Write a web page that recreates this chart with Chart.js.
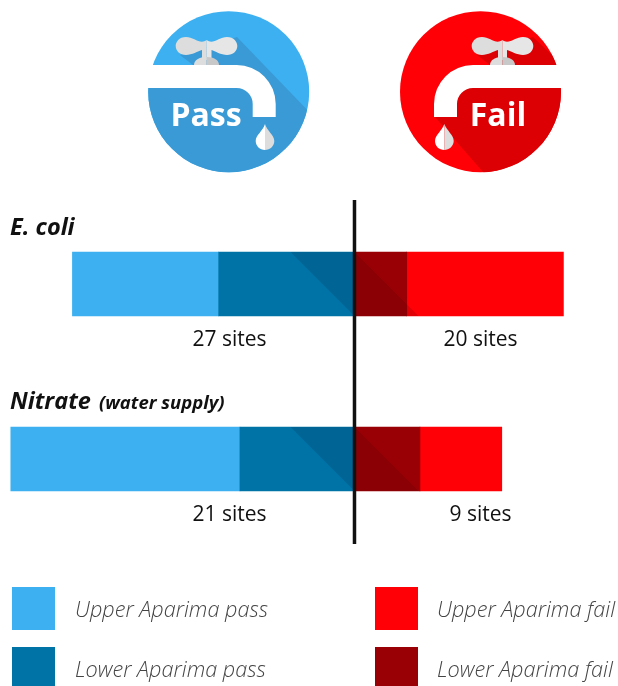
<!DOCTYPE html>
<html>
<head>
<meta charset="utf-8">
<title>Water quality sites</title>
<script src="https://cdn.jsdelivr.net/npm/chart.js@4"></script>
<style>
  html, body { margin: 0; padding: 0; background: #fff; overflow: hidden; }
  #wrap { position: relative; width: 618px; height: 686px; }
  #icons { position: absolute; left: 0; top: 0; }
  canvas { position: absolute; left: 0; top: 0; }
  #icons text { font-family: "Open Sans", sans-serif; font-weight: 700; font-size: 32px; fill: #fff; text-anchor: middle; }
</style>
</head>
<body>
<div id="wrap">
  <canvas id="chart" width="618" height="686"></canvas>
  <svg id="icons" width="618" height="190">
    <defs>
      <clipPath id="passClip"><circle cx="228.7" cy="91.7" r="80.5"/></clipPath>
      <clipPath id="failClip"><circle cx="480.5" cy="91.7" r="80.5"/></clipPath>
    </defs>

    <!-- pass tap -->
    <circle cx="228.7" cy="91.7" r="80.5" fill="#3cb0f0"/>
    <polygon clip-path="url(#passClip)" fill="#3a9ad6"
      points="180,55 237,37 317,120 317,180 140,180 140,77 193,65"/>
    <path fill="#fff" d="M140 65H236.7A39 39 0 0 1 275.7 104V117H252.7V104A16 16 0 0 0 236.7 88H140Z"/>
    <path fill="#ddd" d="M206.7 40C200 45 194 37 186 37C179 37 175.7 42 175.7 46C175.7 51 180 55 186 55C192 55 198 51 202 50V60H206.7Z"/>
    <path fill="#e6e6e6" d="M206.7 40C213 45 219 37 227 37C234 37 237.3 42 237.3 46C237.3 51 233 55 227 55C221 55 215 51 211.5 50V60H206.7Z"/>
    <path fill="#ddd" d="M194 65C194 60 199 57 206.7 57V65Z"/>
    <path fill="#c8c8c8" d="M219 65C219 60 214 57 206.7 57V65Z"/>
    <path fill="#fff" d="M265 124C263 131 255.7 135 255.7 141C255.7 146 260 150 265 150Z"/>
    <path fill="#ddd" d="M265 124C267 131 274.3 135 274.3 141C274.3 146 270 150 265 150Z"/>
    <text x="206" y="126">Pass</text>

    <!-- fail tap -->
    <circle cx="480.5" cy="91.7" r="80.5" fill="#ff0007"/>
    <polygon clip-path="url(#failClip)" fill="#dc0004"
      points="477,55 533,37 570,72 570,180 490,180 435,117 457,88 490,65"/>
    <path fill="#fff" d="M570 65H473A39 39 0 0 0 434 104V117H457V104A16 16 0 0 1 473 88H570Z"/>
    <path fill="#ddd" d="M502.3 40C496 45 490 37 482 37C475 37 471.7 42 471.7 46C471.7 51 476 55 482 55C488 55 494 51 498 50V60H502.3Z"/>
    <path fill="#e6e6e6" d="M502.3 40C509 45 515 37 523 37C530 37 533.3 42 533.3 46C533.3 51 529 55 523 55C517 55 511 51 507 50V60H502.3Z"/>
    <path fill="#ddd" d="M490 65C490 60 495 57 502.3 57V65Z"/>
    <path fill="#c8c8c8" d="M515 65C515 60 510 57 502.3 57V65Z"/>
    <path fill="#fff" d="M444.3 124C442 131 435 135 435 141C435 146 439 150 444.3 150Z"/>
    <path fill="#ddd" d="M444.3 124C447 131 453.7 135 453.7 141C453.7 146 449 150 444.3 150Z"/>
    <text x="498" y="126">Fail</text>
  </svg>
</div>
<script>
const categories = ['E. coli', 'Nitrate'];
const upperPass = [14, 14];
const lowerPass = [13, 7];
const lowerFail = [5, 4];
const upperFail = [15, 5];
const legendLabels = ['Upper Aparima pass', 'Lower Aparima pass', 'Upper Aparima fail', 'Lower Aparima fail'];

const COLORS = {
  upperPass: '#3cb0f0',
  lowerPass: '#0073a6',
  lowerFail: '#990005',
  upperFail: '#ff0007'
};
const legendColors = [COLORS.upperPass, COLORS.lowerPass, COLORS.upperFail, COLORS.lowerFail];

// each bar is scaled to 100% of the sites tested for that measure
const totals = categories.map((c, i) => upperPass[i] + lowerPass[i] + lowerFail[i] + upperFail[i]);
const share = (values, sign) => values.map((v, i) => sign * v / totals[i] * 100);
const passTotal = i => upperPass[i] + lowerPass[i];
const failTotal = i => upperFail[i] + lowerFail[i];

const LABEL_FONT = '"Open Sans", sans-serif';

// long shadow falling from the divider, dark blue above the diagonal and dark red below it
const shadowPlugin = {
  id: 'tapShadow',
  afterDatasetsDraw(chart) {
    const ctx = chart.ctx;
    const zero = chart.scales.x.getPixelForValue(0);
    chart.getDatasetMeta(0).data.forEach((bar) => {
      const top = bar.y - bar.height / 2;
      const bottom = bar.y + bar.height / 2;
      ctx.save();
      ctx.fillStyle = 'rgba(0, 40, 80, 0.2)';
      ctx.beginPath();
      ctx.moveTo(zero - bar.height, top);
      ctx.lineTo(zero, top);
      ctx.lineTo(zero, bottom);
      ctx.closePath();
      ctx.fill();
      ctx.fillStyle = 'rgba(60, 0, 0, 0.16)';
      ctx.beginPath();
      ctx.moveTo(zero, top);
      ctx.lineTo(zero + bar.height, bottom);
      ctx.lineTo(zero, bottom);
      ctx.closePath();
      ctx.fill();
      ctx.restore();
    });
  }
};

// divider, headings, site counts and the two column legend
const annotationPlugin = {
  id: 'annotations',
  afterDraw(chart) {
    const ctx = chart.ctx;
    const zero = chart.scales.x.getPixelForValue(0);
    ctx.save();

    ctx.strokeStyle = '#111';
    ctx.lineWidth = 3.5;
    ctx.beginPath();
    ctx.moveTo(zero, 200);
    ctx.lineTo(zero, 544);
    ctx.stroke();

    ctx.fillStyle = '#111';
    ctx.textAlign = 'left';
    ctx.textBaseline = 'alphabetic';
    ctx.font = 'italic 700 23.5px ' + LABEL_FONT;
    ctx.fillText(categories[0], 10, 235);
    ctx.fillText(categories[1], 10, 409);
    ctx.font = 'italic 700 18.5px ' + LABEL_FONT;
    ctx.fillText('(water supply)', 99, 409);

    const bars = chart.getDatasetMeta(0).data;
    ctx.textAlign = 'center';
    ctx.font = '21px ' + LABEL_FONT;
    bars.forEach((bar, i) => {
      const y = bar.y + bar.height / 2 + 29.5;
      ctx.fillText(passTotal(i) + ' sites', zero - 125, y);
      ctx.fillText(failTotal(i) + ' sites', zero + 126, y);
    });

    ctx.textAlign = 'left';
    ctx.font = 'italic 300 21.7px ' + LABEL_FONT;
    legendLabels.forEach((label, i) => {
      const x = i < 2 ? 12 : 375;
      const y = i % 2 === 0 ? 587 : 647;
      ctx.fillStyle = legendColors[i];
      ctx.fillRect(x, y, 43, 43);
      ctx.fillStyle = '#444';
      ctx.fillText(label, i < 2 ? 75 : 437, y + 30);
    });
    ctx.restore();
  }
};

new Chart(document.getElementById('chart'), {
  type: 'bar',
  data: {
    labels: categories,
    datasets: [
      { label: 'Lower Aparima pass', data: share(lowerPass, -1), backgroundColor: COLORS.lowerPass },
      { label: 'Upper Aparima pass', data: share(upperPass, -1), backgroundColor: COLORS.upperPass },
      { label: 'Lower Aparima fail', data: share(lowerFail, 1), backgroundColor: COLORS.lowerFail },
      { label: 'Upper Aparima fail', data: share(upperFail, 1), backgroundColor: COLORS.upperFail }
    ]
  },
  options: {
    indexAxis: 'y',
    responsive: false,
    animation: false,
    barThickness: 64,
    layout: { padding: { top: 196.5, bottom: 139.5 } },
    plugins: { legend: { display: false }, tooltip: { enabled: false } },
    scales: {
      x: { stacked: true, display: false, min: -72.2, max: 53.67 },
      y: { stacked: true, display: false }
    }
  },
  plugins: [shadowPlugin, annotationPlugin]
});
</script>
</body>
</html>
